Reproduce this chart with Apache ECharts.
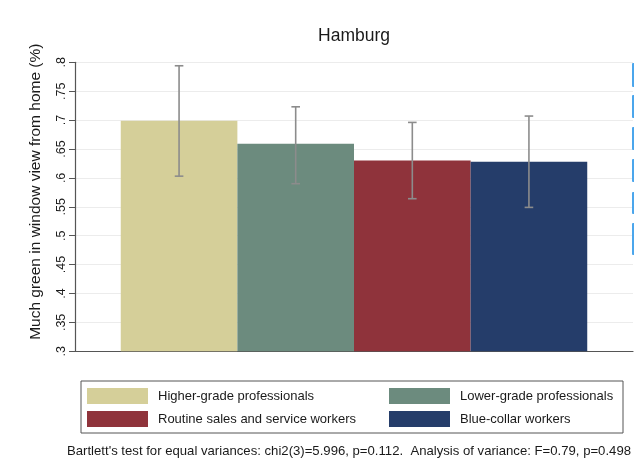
<!DOCTYPE html>
<html>
<head>
<meta charset="utf-8">
<script src="https://cdn.jsdelivr.net/npm/echarts@6/dist/echarts.min.js"></script>
<style>html,body{margin:0;padding:0;background:#fff;}#c{width:634px;height:469px;}</style>
</head>
<body>
<div id="c"></div>
<script>
var title = 'Hamburg';
var groups = ['Higher-grade professionals', 'Lower-grade professionals', 'Routine sales and service workers', 'Blue-collar workers'];
var means = [0.699, 0.659, 0.630, 0.628];
var ciLow = [0.603, 0.590, 0.564, 0.549];
var ciHigh = [0.794, 0.723, 0.696, 0.707];
var colors = ['#d5cf99', '#6c8b7e', '#8f333b', '#253d6a'];
var yTickLabels = ['.3', '.35', '.4', '.45', '.5', '.55', '.6', '.65', '.7', '.75', '.8'];
var yMin = 0.3, yMax = 0.8, yStep = 0.05;
var yTitle = 'Much green in window view from home (%)';
var note = "Bartlett's test for equal variances: chi2(3)=5.996, p=0.112.  Analysis of variance: F=0.79, p=0.498";

var gapPct = 16.4;
var font = 'Liberation Sans, Arial, Helvetica, sans-serif';

var series = groups.map(function (g, i) {
  return {
    name: g, type: 'bar', data: [means[i]],
    barGap: '0%', barCategoryGap: gapPct + '%',
    itemStyle: { color: colors[i] }, z: 2
  };
});
series.push({
  type: 'custom', z: 5,
  data: groups.map(function (g, i) { return [0, ciLow[i], ciHigh[i], i]; }),
  encode: { x: 0, y: [1, 2] },
  renderItem: function (params, api) {
    var band = api.size([1, 0])[0];
    var bw = band * (1 - gapPct / 100) / groups.length;
    var idx = api.value(3);
    var c = api.coord([0, api.value(1)]);
    var cx = c[0] + (idx - (groups.length - 1) / 2) * bw;
    var lo = c[1];
    var hi = api.coord([0, api.value(2)])[1];
    var cap = 4.3;
    var st = { stroke: '#8c8c8c', lineWidth: 1.6 };
    return { type: 'group', children: [
      { type: 'line', shape: { x1: cx, y1: lo, x2: cx, y2: hi }, style: st },
      { type: 'line', shape: { x1: cx - cap, y1: hi, x2: cx + cap, y2: hi }, style: st },
      { type: 'line', shape: { x1: cx - cap, y1: lo, x2: cx + cap, y2: lo }, style: st }
    ]};
  }
});

var blueMarks = [[63, 87], [95, 118], [127, 150], [159, 182], [192, 214], [223, 255]];
var graphics = [
  { type: 'text', x: 36, y: 191.7, rotation: Math.PI / 2,
    style: { text: yTitle, font: '15.5px ' + font, fill: '#1a1a1a', textAlign: 'center', textVerticalAlign: 'middle' } },
  { type: 'rect', shape: { x: 81, y: 381, width: 542, height: 52 },
    style: { fill: 'none', stroke: '#555', lineWidth: 1 }, z: 0 },
  { type: 'text', x: 67, y: 451,
    style: { text: note, font: '13.15px ' + font, fill: '#1a1a1a', textVerticalAlign: 'middle' } }
];
blueMarks.forEach(function (m) {
  graphics.push({ type: 'rect', shape: { x: 632, y: m[0], width: 2.5, height: m[1] - m[0], r: 1 },
    style: { fill: '#4ba6ec' }, z: 10 });
});

var chart = echarts.init(document.getElementById('c'), null, { renderer: 'canvas' });
chart.setOption({
  animation: false,
  backgroundColor: '#fff',
  title: { text: title, left: 349, textAlign: 'center', top: 22,
    textStyle: { fontFamily: font, fontSize: 17.5, fontWeight: 'normal', color: '#1a1a1a' } },
  grid: { left: 75, right: 1, top: 62.3, bottom: 117.7 },
  legend: [
    { data: [groups[0], groups[2]], orient: 'vertical', left: 87, top: 388, padding: 0,
      itemWidth: 61, itemHeight: 16, itemGap: 7, icon: 'rect',
      textStyle: { fontFamily: font, fontSize: 13, color: '#1a1a1a', padding: [0, 0, 0, 5] } },
    { data: [groups[1], groups[3]], orient: 'vertical', left: 389, top: 388, padding: 0,
      itemWidth: 61, itemHeight: 16, itemGap: 7, icon: 'rect',
      textStyle: { fontFamily: font, fontSize: 13, color: '#1a1a1a', padding: [0, 0, 0, 5] } }
  ],
  xAxis: {
    type: 'category', data: [''],
    axisLine: { lineStyle: { color: '#555', width: 1.2 } },
    axisTick: { show: false }, axisLabel: { show: false }
  },
  yAxis: {
    type: 'value', min: yMin, max: yMax, interval: yStep,
    axisLine: { show: true, lineStyle: { color: '#555', width: 1.2 } },
    axisTick: { show: true, length: 6, lineStyle: { color: '#555' } },
    axisLabel: { rotate: 90, margin: 7, fontFamily: font, fontSize: 12.5, color: '#1a1a1a',
      formatter: function (v) { return yTickLabels[Math.round((v - yMin) / yStep)]; } },
    splitLine: { show: true, lineStyle: { color: '#ececec', width: 1 } }
  },
  series: series,
  graphic: graphics
});
</script>
</body>
</html>
